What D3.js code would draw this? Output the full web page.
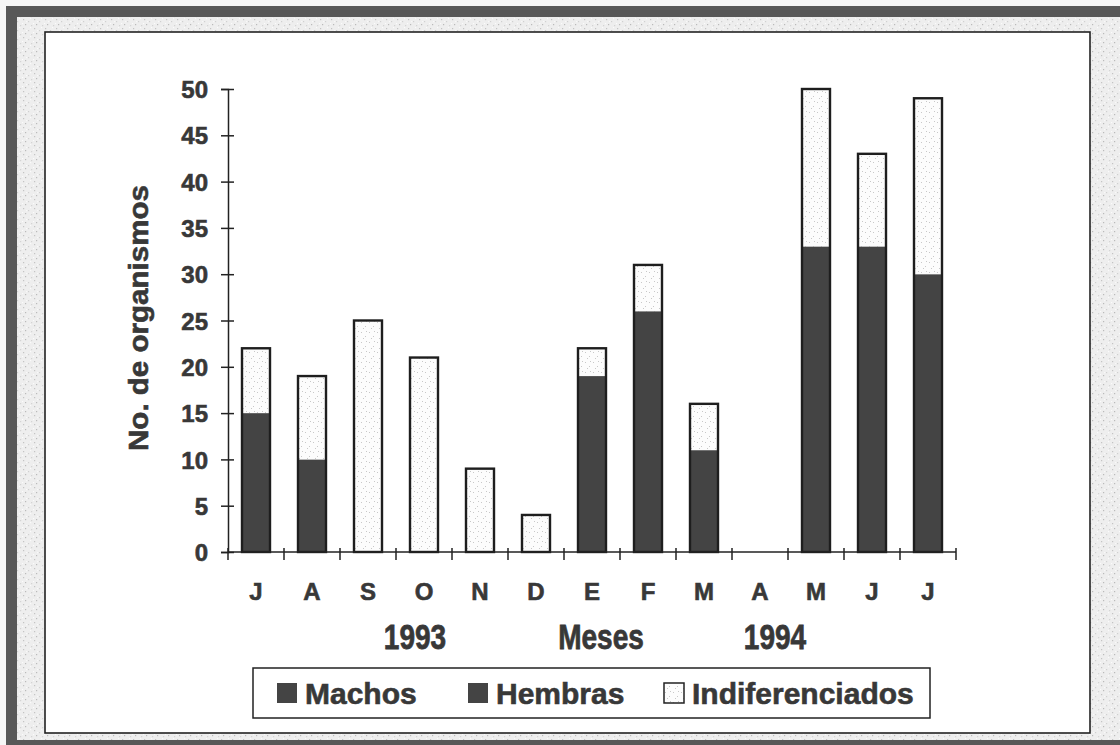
<!DOCTYPE html>
<html>
<head>
<meta charset="utf-8">
<script src="https://cdn.jsdelivr.net/npm/d3@7/dist/d3.min.js"></script>
<style>
  html, body { margin: 0; padding: 0; background: #ffffff; }
  svg { display: block; }
  text { font-family: "Liberation Sans", Arial, sans-serif; font-weight: bold; fill: #383838; stroke: #383838; stroke-width: 0.6px; }
</style>
</head>
<body>
<svg id="chart" width="1120" height="745"></svg>
<script>
// Monthly counts of organisms, July 1993 – July 1994
const meses = ["J", "A", "S", "O", "N", "D", "E", "F", "M", "A", "M", "J", "J"];
const machos = [0, 0, 0, 0, 0, 0, 0, 0, 0, 0, 0, 0, 0];
const hembras = [15, 10, 0, 0, 0, 0, 19, 26, 11, 0, 33, 33, 30];
const indiferenciados = [7, 9, 25, 21, 9, 4, 3, 5, 5, 0, 17, 10, 19];
const yTicks = [0, 5, 10, 15, 20, 25, 30, 35, 40, 45, 50];
const serieNames = ["Machos", "Hembras", "Indiferenciados"];
const subLabels = ["1993", "Meses", "1994"];

const rows = meses.map((m, i) => ({
  key: i, mes: m,
  Machos: machos[i], Hembras: hembras[i], Indiferenciados: indiferenciados[i]
}));
const total = d => d.Machos + d.Hembras + d.Indiferenciados;

const svg = d3.select("#chart");
const W = 1120, H = 745;

const defs = svg.append("defs");
// speckled paper texture for the outer mat
const speck = defs.append("pattern").attr("id", "speck")
  .attr("width", 11).attr("height", 9).attr("patternUnits", "userSpaceOnUse");
speck.append("rect").attr("width", 11).attr("height", 9).attr("fill", "#eeeeee");
[[1,1,"#c4c4c4"],[6,3,"#d0d0d0"],[3,6,"#bababa"],[9,7,"#d4d4d4"],[8,0,"#fafafa"],[4,3,"#f8f8f8"],[0,5,"#fbfbfb"]]
  .forEach(([x, y, c]) => speck.append("rect").attr("x", x).attr("y", y).attr("width", 1.2).attr("height", 1.2).attr("fill", c));

// light dotted fill for the undifferentiated segment
const dots = defs.append("pattern").attr("id", "dots")
  .attr("width", 8).attr("height", 10).attr("patternUnits", "userSpaceOnUse");
dots.append("rect").attr("width", 8).attr("height", 10).attr("fill", "#fcfcfc");
[[1,2],[5,6],[3,8],[6,1]].forEach(([x, y]) =>
  dots.append("rect").attr("x", x).attr("y", y).attr("width", 1).attr("height", 1).attr("fill", "#c8c8c8"));

// outer frame: dark band left, top and bottom, speckled mat inside it
svg.append("rect").attr("x", 0).attr("y", 0).attr("width", W).attr("height", H).attr("fill", "#f6f6f6");
svg.append("rect").attr("x", 6).attr("y", 6).attr("width", W - 6).attr("height", H - 6).attr("fill", "#585858");
svg.append("rect").attr("x", 17).attr("y", 17).attr("width", W - 17).attr("height", 723).attr("fill", "url(#speck)");
// inner white panel
svg.append("rect").attr("x", 45).attr("y", 32).attr("width", 1045).attr("height", 701)
  .attr("fill", "#ffffff").attr("stroke", "#222").attr("stroke-width", 1.6);

const colors = { Machos: "#444444", Hembras: "#444444", Indiferenciados: "url(#dots)" };

const x0 = 228, x1 = 956, yTop = 89, yBot = 552;
const x = d3.scaleBand().domain(d3.range(meses.length)).range([x0, x1]).paddingInner(0.5).paddingOuter(0.25);
const y = d3.scaleLinear().domain([0, 50]).range([yBot, yTop]);

const stack = d3.stack().keys(serieNames)(rows);

// stacked bar segments
const g = svg.append("g");
stack.forEach(layer => {
  g.selectAll(null).data(layer.filter(d => d[1] - d[0] > 0)).enter().append("rect")
    .attr("x", d => x(d.data.key))
    .attr("y", d => y(d[1]))
    .attr("width", x.bandwidth())
    .attr("height", d => y(d[0]) - y(d[1]))
    .attr("fill", colors[layer.key]);
});
// outline of each full bar
g.selectAll(null).data(rows.filter(r => total(r) > 0)).enter().append("rect")
  .attr("x", d => x(d.key))
  .attr("y", d => y(total(d)))
  .attr("width", x.bandwidth())
  .attr("height", d => yBot - y(total(d)))
  .attr("fill", "none").attr("stroke", "#1e1e1e").attr("stroke-width", 2.4);

// y axis, ticks crossing the line
const yAxis = svg.append("g").attr("transform", `translate(${x0},0)`)
  .call(d3.axisLeft(y).tickValues(yTicks).tickSize(7).tickPadding(13));
yAxis.select(".domain").attr("stroke", "#222").attr("stroke-width", 1.5);
yAxis.selectAll(".tick line").attr("x2", 6).attr("x1", -7).attr("stroke", "#222").attr("stroke-width", 1.5);
yAxis.selectAll(".tick text").style("font-size", "24px").attr("dy", "0.36em");

// x axis: ticks on the month boundaries
const step = (x1 - x0) / meses.length;
const xAxis = svg.append("g").attr("transform", `translate(0,${yBot})`);
xAxis.append("line").attr("x1", x0).attr("x2", x1).attr("stroke", "#222").attr("stroke-width", 1.5);
xAxis.selectAll(null).data(d3.range(meses.length + 1)).enter().append("line")
  .attr("x1", i => x0 + i * step).attr("x2", i => x0 + i * step)
  .attr("y1", -4).attr("y2", 8).attr("stroke", "#222").attr("stroke-width", 1.5);
xAxis.selectAll(null).data(rows).enter().append("text")
  .attr("x", d => x(d.key) + x.bandwidth() / 2).attr("y", 48)
  .attr("text-anchor", "middle").style("font-size", "24px").text(d => d.mes);

// second row of axis labels (years and axis name), drawn slightly tall
const subX = [415, 601, 775];
subLabels.forEach((t, i) =>
  svg.append("text").attr("transform", `translate(${subX[i]},649) scale(1,1.25)`)
    .attr("text-anchor", "middle").style("font-size", "28px").text(t));

// y title
svg.append("text").attr("transform", "translate(148,318) rotate(-90)")
  .attr("text-anchor", "middle").style("font-size", "27px").attr("textLength", 266)
  .attr("lengthAdjust", "spacingAndGlyphs").text("No. de organismos");

// legend
const leg = svg.append("g");
leg.append("rect").attr("x", 253).attr("y", 668).attr("width", 677).attr("height", 50)
  .attr("fill", "#fff").attr("stroke", "#222").attr("stroke-width", 1.5);
const legX = [277, 468, 664];
serieNames.forEach((s, i) => {
  leg.append("rect").attr("x", legX[i]).attr("y", 683).attr("width", 20).attr("height", 20)
    .attr("fill", colors[s]).attr("stroke", s === "Indiferenciados" ? "#222" : "none").attr("stroke-width", 1.5);
  leg.append("text").attr("x", legX[i] + 28).attr("y", 704).style("font-size", "30px").text(s);
});
</script>
</body>
</html>
